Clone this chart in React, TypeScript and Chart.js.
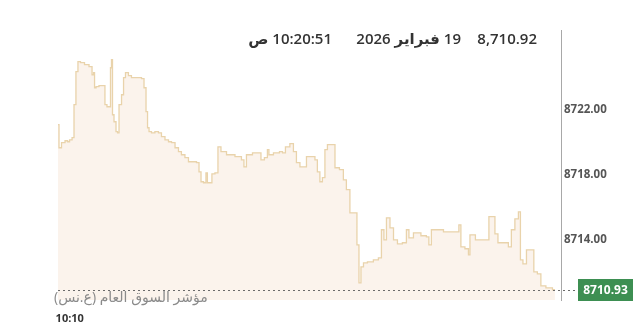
import React, { useEffect, useRef } from "react";
import { Chart, registerables } from "chart.js";

Chart.register(...registerables);

// minutes after 10:00
const minutes = [0, 1.2, 3.0, 5.4, 6.0, 7.8, 9.0, 10.1, 11.3, 12.5, 14.3, 17.3, 19.7, 20.9, 21.5, 22.1, 23.3, 25.6, 27.4, 28.6, 29.8, 31.0, 31.6, 32.2, 32.8, 34.0, 35.2, 35.8, 37.0, 38.8, 39.4, 41.1, 42.9, 44.7, 47.1, 48.9, 50.7, 51.9, 53.1, 53.7, 54.9, 56.6, 59.0, 60.8, 62.6, 65.0, 66.8, 68.6, 71.0, 72.7, 74.5, 76.9, 78.7, 81.7, 83.5, 84.7, 85.9, 87.7, 88.8, 89.4, 91.2, 92.4, 94.8, 96.0, 98.4, 102.6, 108.5, 110.3, 111.5, 113.3, 118.7, 120.5, 121.6, 124.6, 125.2, 126.4, 130.6, 133.6, 134.2, 137.1, 139.5, 141.3, 143.1, 145.5, 147.3, 149.1, 152.1, 154.4, 155.0, 157.4, 158.0, 160.4, 161.0, 164.0, 166.4, 169.3, 171.1, 172.9, 175.3, 177.7, 178.9, 180.1, 181.3, 183.1, 186.0, 190.2, 192.0, 193.8, 195.0, 196.8, 199.2, 201.0, 203.9, 206.9, 208.7, 209.9, 214.1, 218.8, 220.6, 221.8, 223.6, 227.8, 232.0, 238.5, 239.7, 240.9, 244.5, 245.1, 246.3, 251.6, 256.4, 257.6, 259.4, 261.8, 263.0, 267.7, 269.5, 271.3, 273.7, 275.5, 276.1, 278.5, 280.3, 283.2, 284.4, 287.4, 288.6, 293.4, 296.4];

const values = [8721.08, 8719.66, 8719.97, 8720.09, 8720.03, 8720.15, 8720.28, 8722.31, 8724.34, 8724.95, 8724.89, 8724.77, 8724.65, 8724.15, 8724.28, 8723.35, 8723.42, 8723.48, 8723.48, 8722.31, 8722.18, 8722.18, 8724.58, 8725.08, 8721.69, 8721.26, 8720.65, 8720.58, 8722.31, 8722.92, 8723.97, 8724.28, 8724.09, 8723.97, 8723.97, 8723.97, 8723.91, 8723.35, 8721.88, 8720.89, 8720.65, 8720.58, 8720.65, 8720.58, 8720.34, 8720.15, 8720.03, 8719.97, 8719.66, 8719.42, 8719.23, 8719.05, 8718.80, 8718.80, 8718.74, 8718.18, 8717.57, 8717.51, 8718.12, 8717.51, 8717.51, 8718.06, 8718.12, 8719.72, 8719.42, 8719.23, 8719.11, 8718.92, 8718.49, 8719.23, 8719.35, 8719.35, 8718.92, 8719.05, 8719.54, 8719.23, 8719.35, 8719.42, 8719.35, 8719.72, 8719.91, 8719.42, 8718.74, 8718.49, 8718.49, 8719.11, 8719.11, 8718.92, 8718.18, 8717.57, 8717.82, 8719.54, 8719.85, 8719.85, 8718.43, 8718.31, 8717.69, 8717.08, 8715.66, 8715.66, 8713.69, 8711.35, 8712.34, 8712.58, 8712.65, 8712.77, 8712.89, 8714.62, 8714.00, 8715.35, 8714.74, 8714.00, 8713.75, 8713.82, 8714.62, 8714.12, 8714.43, 8714.25, 8714.18, 8713.69, 8714.62, 8714.62, 8714.49, 8714.49, 8714.92, 8713.57, 8713.45, 8713.08, 8714.31, 8714.00, 8714.00, 8715.42, 8715.42, 8714.37, 8713.82, 8713.82, 8713.57, 8714.62, 8715.29, 8715.72, 8712.77, 8712.52, 8713.38, 8713.38, 8712.03, 8711.91, 8711.17, 8711.05, 8710.93];

const yTickValues = [8714, 8718, 8722];
const yMin = 8710.3;
const yMax = 8726.9;
const xMin = 0;
const xMax = 300;
const xTickMinutes = [10];
const xTickLabels = ["10:10"];

const headerValue = "8,710.92";
const headerDate = "19 فبراير 2026";
const headerTime = "10:20:51 ص";
const indexName = "مؤشر السوق العام (ع.نس)";

const FONT = '"Open Sans", "Noto Sans", "DejaVu Sans", sans-serif';

const lastValuePlugin = {
  id: "lastValue",
  afterDatasetsDraw(chart: any) {
    const { ctx, chartArea, scales } = chart;
    const v = values[values.length - 1];
    const py = Math.round(scales.y.getPixelForValue(v)) + 0.5;
    ctx.save();
    ctx.setLineDash([2, 3]);
    ctx.strokeStyle = "#6b6b6b";
    ctx.lineWidth = 1;
    ctx.beginPath();
    ctx.moveTo(chartArea.left, py);
    ctx.lineTo(580, py);
    ctx.stroke();
    ctx.setLineDash([]);
    ctx.fillStyle = "#3d8f52";
    ctx.fillRect(578, py - 11.5, 55, 22);
    ctx.fillStyle = "#ffffff";
    ctx.font = "bold 12px " + FONT;
    ctx.textAlign = "center";
    ctx.textBaseline = "middle";
    ctx.fillText(v.toFixed(2), 605.5, py + 0.5);
    ctx.restore();
  },
};

export default function App() {
  const ref = useRef<HTMLCanvasElement>(null);
  useEffect(() => {
    if (!ref.current) return;
    const chart = new Chart(ref.current, {
      type: "line",
      data: {
        datasets: [
          {
            data: minutes.map((m, i) => ({ x: m, y: values[i] })),
            borderColor: "#e9d3ab",
            borderWidth: 1.3,
            backgroundColor: "rgba(247, 228, 212, 0.45)",
            fill: "start",
            pointRadius: 0,
            stepped: "middle",
          },
        ],
      },
      options: {
        animation: false,
        responsive: false,
        devicePixelRatio: 1,
        layout: { padding: { left: 58, top: 30, right: 0, bottom: 0 } },
        plugins: { legend: { display: false }, tooltip: { enabled: false } },
        scales: {
          x: {
            type: "linear",
            min: xMin,
            max: xMax,
            grid: { display: false, drawTicks: false },
            border: { display: false },
            afterBuildTicks: (s: any) => {
              s.ticks = xTickMinutes.map((v) => ({ value: v }));
            },
            afterFit: (s: any) => {
              s.height = 33;
            },
            ticks: {
              padding: 12,
              labelOffset: -5,
              maxRotation: 0,
              color: "#333",
              font: { family: FONT, size: 11, weight: "bold" },
              callback: (_v: any, i: number) => xTickLabels[i],
            },
          },
          y: {
            position: "right",
            min: yMin,
            max: yMax,
            grid: { display: false, drawTicks: false },
            border: { display: true, color: "#a8a8a8", width: 1 },
            afterBuildTicks: (s: any) => {
              s.ticks = yTickValues.map((v) => ({ value: v }));
            },
            afterFit: (s: any) => {
              s.width = 79;
            },
            ticks: {
              padding: 3,
              color: "#555",
              font: { family: FONT, size: 11.5, weight: "bold" },
              callback: (v: any) => Number(v).toFixed(2),
            },
          },
        },
      },
      plugins: [lastValuePlugin],
    });
    return () => chart.destroy();
  }, []);

  const headStyle: React.CSSProperties = {
    position: "absolute",
    top: 28,
    fontFamily: FONT,
    fontSize: 15,
    fontWeight: 600,
    color: "#333",
    lineHeight: "20px",
    whiteSpace: "nowrap",
  };

  return (
    <div style={{ position: "fixed", left: 0, top: 0, width: 640, height: 333, background: "#fff", overflow: "hidden" }}>
      <canvas ref={ref} width={640} height={333} style={{ position: "absolute", left: 0, top: 0, width: 640, height: 333 }} />
      <div style={{ ...headStyle, right: 640 - 537 }}>{headerValue}</div>
      <div dir="rtl" style={{ ...headStyle, right: 640 - 461 }}>{headerDate}</div>
      <div dir="rtl" style={{ ...headStyle, right: 640 - 332 }}>{headerTime}</div>
      <div dir="rtl" style={{ position: "absolute", left: 54, top: 288, fontFamily: FONT, fontSize: 14, color: "#8a8a8a", lineHeight: "18px", whiteSpace: "nowrap" }}>
        {indexName}
      </div>
    </div>
  );
}
